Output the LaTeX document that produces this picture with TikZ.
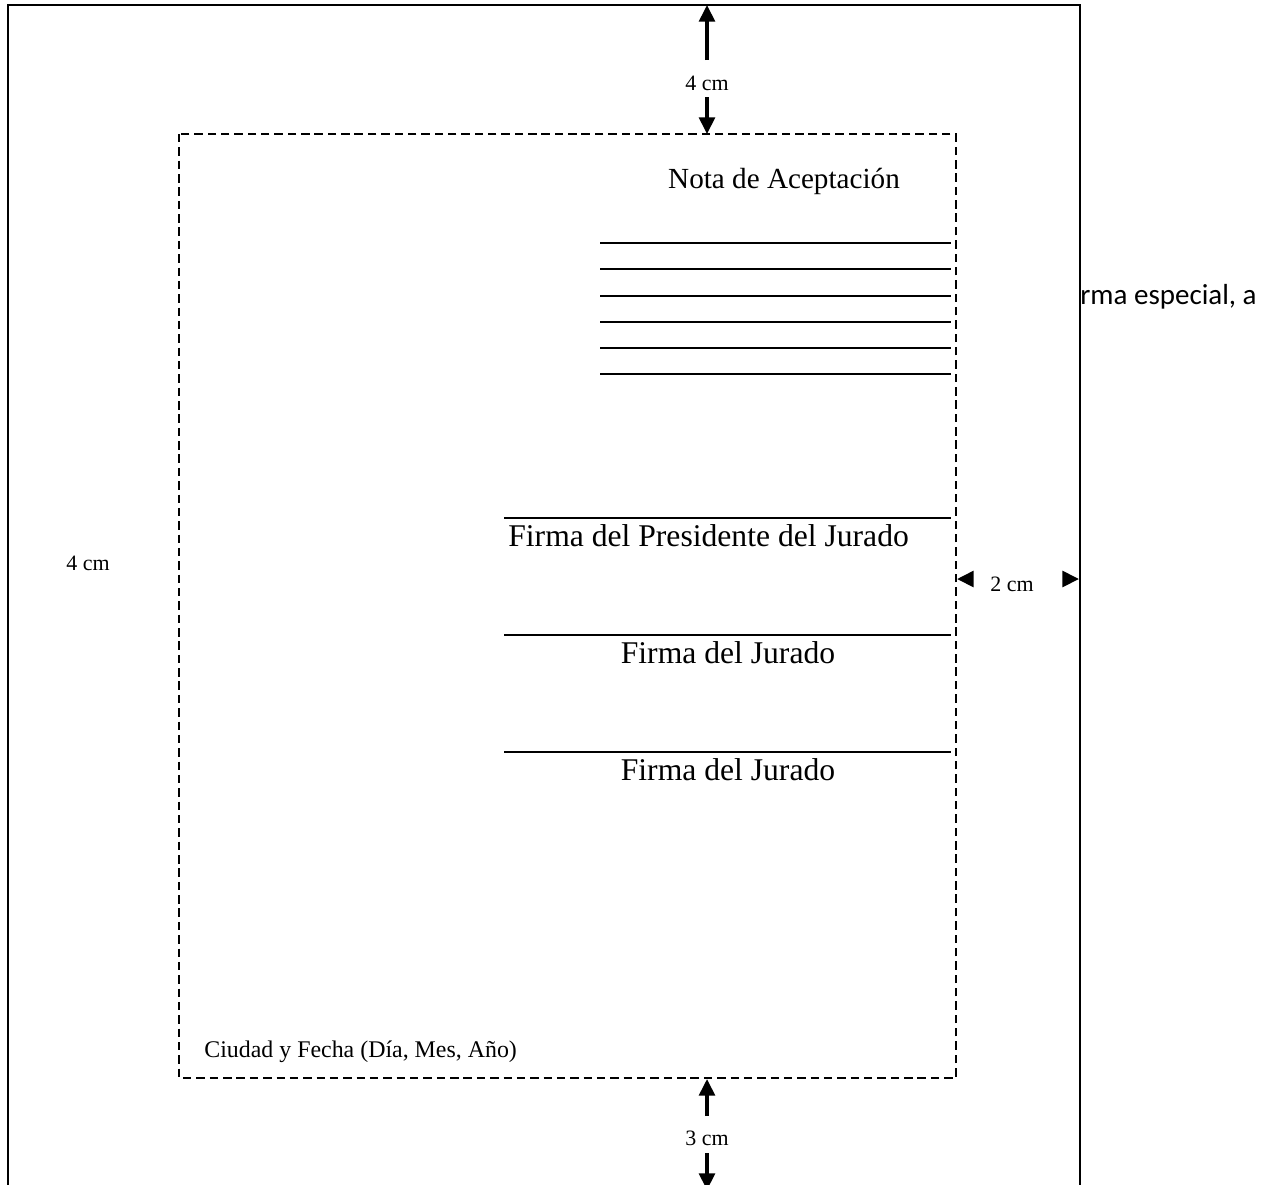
\documentclass[tikz,border=0pt]{standalone}
\usepackage{fontspec}
\setmainfont{Liberation Serif}
\newfontfamily\carlito{Carlito}
\usetikzlibrary{arrows.meta}
\begin{document}
\begin{tikzpicture}[x=0.02cm,y=-0.02cm,
  outer/.style={line width=1.3pt},
  margin/.style={line width=1.3pt,dash pattern=on 4.8pt off 2.8pt},
  rule/.style={line width=1.2pt},
  dim/.style={line width=2pt,-{Triangle[width=9pt,length=9.5pt]}},
  dimtxt/.style={inner sep=0pt,font=\fontsize{12.5}{14}\selectfont},
  big/.style={inner sep=0pt,font=\fontsize{18}{21}\selectfont}]
\useasboundingbox (0,0) rectangle (1273,1184);
% outer page
\draw[outer] (8,1190) -- (8,5) -- (1080,5) -- (1080,1190);
% margin box
\draw[margin] (179,134) rectangle (956,1078);
% top dimension
\coordinate (tt) at (707,5);
\coordinate (tb) at (707,134);
\node[dimtxt] (t4) at (707,83) {4 cm};
\draw[dim] (707,60) -- (tt);
\draw[dim] (707,97) -- (tb);
% bottom dimension
\coordinate (bt) at (707,1079);
\coordinate (bb) at (707,1190);
\node[dimtxt] (b3) at (707,1138) {3 cm};
\draw[dim] (707,1116) -- (bt);
\draw[dim] (707,1153) -- (bb);
% right dimension
\coordinate (rl) at (957,579);
\coordinate (rr) at (1079,579);
\node[dimtxt] (r2) at (1012,584) {2 cm};
\draw[dim] (971,579) -- (rl);
\draw[dim] (1064,579) -- (rr);
% left label
\node[dimtxt] (l4) at (88,563) {4 cm};
% stray text
\node[inner sep=0pt,anchor=west,font=\carlito\fontsize{16.5}{19}\selectfont] (esp) at (1080,297) {rma especial, a};
% Nota de aceptacion
\node[inner sep=0pt,font=\fontsize{16.6}{20}\selectfont] (nota) at (784,181) {Nota de Aceptación};
\foreach \y [count=\i] in {243,269,296,322,348,374}{
  \coordinate (na\i) at (600,\y);
  \coordinate (nb\i) at (951,\y);
  \draw[rule] (na\i) -- (nb\i);
}
% signatures
\coordinate (s1a) at (504,518); \coordinate (s1b) at (951,518);
\coordinate (s2a) at (504,635); \coordinate (s2b) at (951,635);
\coordinate (s3a) at (504,752); \coordinate (s3b) at (951,752);
\draw[rule] (s1a) -- (s1b);
\draw[rule] (s2a) -- (s2b);
\draw[rule] (s3a) -- (s3b);
\node[big,anchor=west] (pres) at (508,536) {Firma del Presidente del Jurado};
\node[big] (jur1) at (728,653) {Firma del Jurado};
\node[big] (jur2) at (728,770) {Firma del Jurado};
% city and date
\node[inner sep=0pt,anchor=west,font=\fontsize{13.6}{16}\selectfont] (ciudad) at (204,1052) {Ciudad y Fecha (Día, Mes, Año)};
\end{tikzpicture}
\end{document}
